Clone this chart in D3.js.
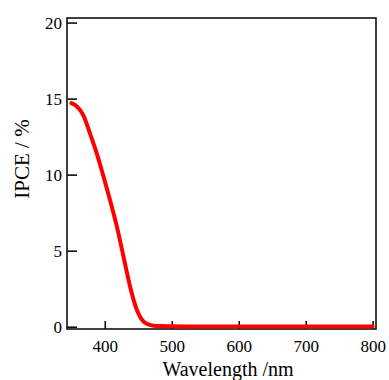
<!DOCTYPE html>
<html>
<head>
<meta charset="utf-8">
<script src="https://cdn.jsdelivr.net/npm/d3@7"></script>
<style>
  html, body { margin: 0; padding: 0; background: #fff; }
  svg text { font-family: "Liberation Serif", "Times New Roman", serif; fill: #000; }
</style>
</head>
<body>
<svg id="chart" width="389" height="380"></svg>
<script>
// wavelength (nm) and IPCE (%)
const wavelength = [350, 358, 368, 378, 388, 398, 408, 418, 428, 438, 448, 458, 465, 473, 485, 498, 520, 600, 700, 800];
const ipce       = [14.7, 14.5, 13.9, 12.7, 11.4, 9.9, 8.3, 6.6, 4.6, 2.6, 1.1, 0.33, 0.15, 0.07, 0.04, 0.03, 0.02, 0.02, 0.02, 0.02];
const xTicks = [400, 500, 600, 700, 800];
const yTicks = [0, 5, 10, 15, 20];

const w = 389, h = 380;
const margin = {left: 67, right: 13, top: 18, bottom: 51};

const svg = d3.select("#chart");

const x = d3.scaleLinear().domain([343.6, 805]).range([margin.left, w - margin.right]);
const y = d3.scaleLinear().domain([-0.15, 20.3]).range([h - margin.bottom, margin.top]);

// ticks pointing inward
const xAxis = d3.axisBottom(x).tickValues(xTicks).tickSizeInner(-8).tickSizeOuter(0).tickPadding(11);
const yAxis = d3.axisLeft(y).tickValues(yTicks).tickSizeInner(-10).tickSizeOuter(0).tickPadding(5);

const gx = svg.append("g")
    .attr("transform", `translate(0,${h - margin.bottom})`)
    .call(xAxis);
const gy = svg.append("g")
    .attr("transform", `translate(${margin.left},0)`)
    .call(yAxis);

[gx, gy].forEach(g => {
  g.attr("font-family", "Liberation Serif").attr("font-size", 17);
  g.select(".domain").remove();
  g.selectAll(".tick line").attr("stroke", "#000").attr("stroke-width", 1.5);
  g.selectAll(".tick text")
    .style("font-family", "'Liberation Serif', serif")
    .style("font-size", "17px");
});

// frame
svg.append("rect")
    .attr("x", margin.left)
    .attr("y", margin.top)
    .attr("width", w - margin.left - margin.right)
    .attr("height", h - margin.top - margin.bottom)
    .attr("fill", "none")
    .attr("stroke", "#111")
    .attr("stroke-width", 1.6);

// the curve
const line = d3.line()
    .x((d, i) => x(wavelength[i]))
    .y(d => y(d))
    .curve(d3.curveMonotoneX);

svg.append("path")
    .datum(ipce)
    .attr("d", line)
    .attr("fill", "none")
    .attr("stroke", "#ff0000")
    .attr("stroke-width", 4)
    .attr("stroke-linejoin", "round")
    .attr("stroke-linecap", "round");

// axis labels
svg.append("text")
    .attr("x", 228)
    .attr("y", 375.5)
    .attr("text-anchor", "middle")
    .attr("font-size", 20)
    .text("Wavelength /nm");

svg.append("text")
    .attr("transform", "translate(29,159) rotate(-90)")
    .attr("text-anchor", "middle")
    .attr("font-size", 21)
    .text("IPCE / %");
</script>
</body>
</html>
